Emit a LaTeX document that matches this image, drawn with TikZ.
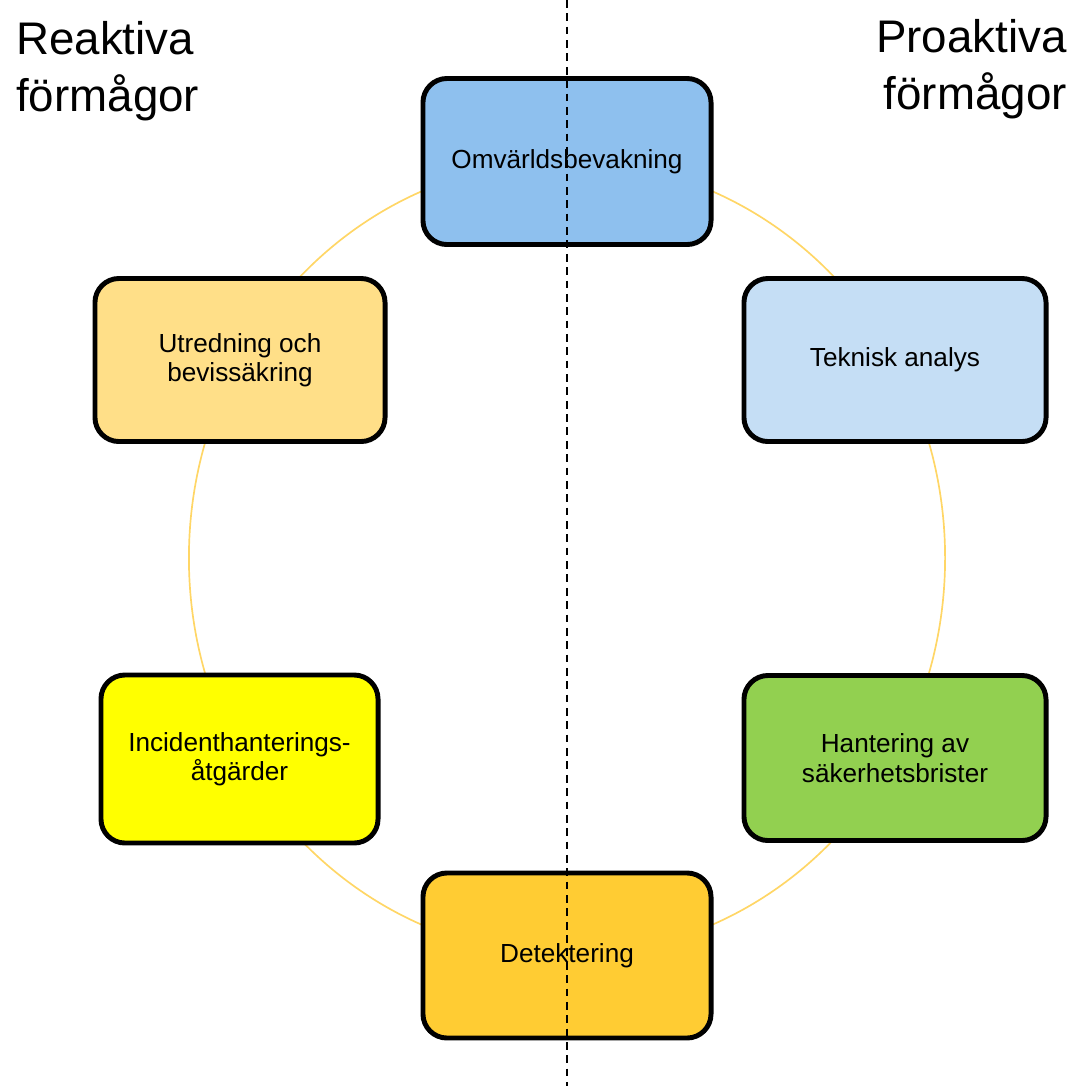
\documentclass[tikz,border=0pt]{standalone}
\usepackage{fontspec}
\setmainfont{Liberation Sans}
\definecolor{ringcol}{RGB}{255,214,102}
\definecolor{omvcol}{RGB}{142,192,238}
\definecolor{tekcol}{RGB}{197,222,245}
\definecolor{utrcol}{RGB}{255,223,136}
\definecolor{inccol}{RGB}{255,255,0}
\definecolor{hancol}{RGB}{146,208,80}
\definecolor{detcol}{RGB}{255,204,51}

\begin{document}
\begin{tikzpicture}[x=0.025cm,y=-0.025cm,
  box/.style={draw,line width=3.5pt,rounded corners=0.6cm,align=center,inner sep=0pt,font=\fontsize{18.6}{21}\selectfont},
  head/.style={inner sep=0pt,font=\fontsize{32.5}{40.5}\selectfont}]
\useasboundingbox (0,0) rectangle (1072,1086);
\coordinate (mid) at (567,558);
\coordinate (top) at (567,0);
\coordinate (bot) at (567,1086);
\draw[ringcol,line width=1.2pt] (mid) ellipse [x radius=9.45cm,y radius=9.925cm];

\node[box,fill=omvcol,minimum width=7.2cm,minimum height=4.15cm] (omv) at (567,161.5) {Omvärldsbevakning};
\node[box,fill=tekcol,minimum width=7.55cm,minimum height=4.075cm] (tek) at (895,360) {Teknisk analys};
\node[box,fill=utrcol,minimum width=7.25cm,minimum height=4.075cm] (utr) at (240,360) {Utredning och\\bevissäkring};
\node[box,fill=inccol,minimum width=6.925cm,minimum height=4.2cm] (inc) at (239.5,759) {Incidenthanterings-\\åtgärder};
\node[box,fill=hancol,minimum width=7.55cm,minimum height=4.125cm] (han) at (895,758) {Hantering av\\säkerhetsbrister};
\node[box,fill=detcol,minimum width=7.2cm,minimum height=4.125cm] (det) at (567,955.5) {Detektering};

\draw[line width=1.2pt,dash pattern=on 5.5pt off 4pt] (top) -- (bot);

\node[head,anchor=north west,align=left] (reak) at (16,21) {Reaktiva\\förmågor};
\node[head,anchor=north east,align=right] (proak) at (1067,19) {Proaktiva\\förmågor};
\end{tikzpicture}
\end{document}
